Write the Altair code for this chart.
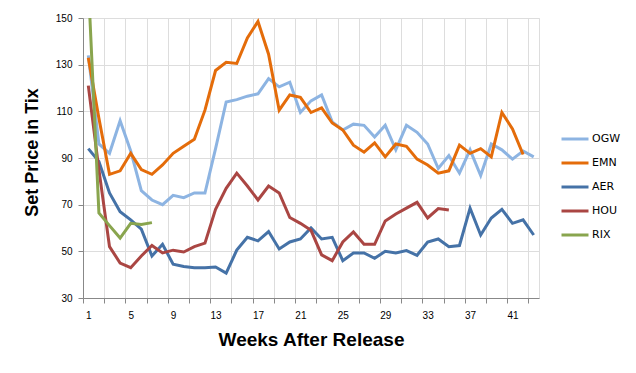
import altair as alt
import pandas as pd

weeks = list(range(1, 44))
set_names = ["OGW", "EMN", "AER", "HOU", "RIX"]
set_colors = ["#8DB4E2", "#E46C0A", "#4572A7", "#AA4643", "#89A54E"]

ogw = [134, 96, 92, 106, 93, 76, 72, 70, 74, 73, 75, 75, 94, 114, 115, 116.5,
       117.5, 124, 120.5, 122.5, 109.5, 114.5, 117, 105.5, 102, 104.5, 104, 99,
       104, 93.5, 104, 101, 96, 85.5, 91, 83.5, 93.5, 82.5, 96, 93.5, 89.5, 93, 90.5]
emn = [133, 107, 83, 84.5, 92, 85, 83, 87, 92, 95, 98, 110.5, 127.5, 131, 130.5,
       141.5, 148.5, 134.5, 110.5, 117, 116, 109.5, 111.5, 105, 102, 95.5, 92.5,
       96.5, 90.5, 96, 95, 89.5, 87, 83.5, 84.5, 95.5, 92, 94, 90.5, 109.5, 102.5,
       91.5, None]
aer = [94, 88.5, 75, 67, 63.5, 59.5, 48, 53, 44.5, 43.5, 43, 43, 43.3, 40.7, 50.5,
       56, 54.5, 58.5, 51, 54, 55.3, 60, 55.3, 56, 46, 49.3, 49.3, 47, 50, 49.3,
       50.3, 48.3, 54, 55.3, 52, 52.5, 68.5, 57, 64.3, 68, 62, 63.5, 57]
hou = [121, 85, 52, 45, 43, 48, 52.5, 49.3, 50.5, 49.7, 52, 53.5, 68, 77, 83.5, 78,
       72, 78, 75, 64.5, 62, 59, 48.5, 46, 54, 58.3, 53, 53, 63, 66, 68.5, 71, 64.3,
       68.3, 67.7] + [None] * 8
rix = [165, 66.5, 61, 55.7, 62, 61.5, 62.3] + [None] * 36

y_ticks = [30, 50, 70, 90, 110, 130, 150]

series = dict(zip(set_names, [ogw, emn, aer, hou, rix]))
rows = []
for name, vals in series.items():
    for w, v in zip(weeks, vals):
        if v is not None:
            rows.append({"week": w, "price": v, "set": name})
df = pd.DataFrame(rows)

W, H = 456, 280
n_cat = len(weeks)
cat_w = W / n_cat
x_tick_pos = [0.5 + 2 * i for i in range(22)]

axis_gray = "#868686"

chart = alt.Chart(df).mark_line(strokeWidth=3, clip=True).encode(
    x=alt.X(
        "week:Q",
        scale=alt.Scale(domain=[0.5, n_cat + 0.5], nice=False, zero=False),
        axis=alt.Axis(
            values=x_tick_pos,
            labelExpr="((datum.value - 0.5) % 4 == 0) ? format(datum.value + 0.5, 'd') : ''",
            labelOffset=cat_w / 2,
            labelOverlap=False,
            labelFlush=False,
            labelBound=False,
            tickSize=5,
            labelPadding=7,
            title="Weeks After Release",
            titleFontSize=19,
            titlePadding=10,
        ),
    ),
    y=alt.Y(
        "price:Q",
        scale=alt.Scale(domain=[30, 150], nice=False, zero=False),
        axis=alt.Axis(
            values=y_ticks,
            tickSize=5,
            labelPadding=6,
            title="Set Price in Tix",
            titleFontSize=18,
            titlePadding=14,
            titleY=134,
        ),
    ),
    color=alt.Color(
        "set:N",
        scale=alt.Scale(domain=set_names, range=set_colors),
        sort=set_names,
        legend=alt.Legend(
            title=None,
            orient="none",
            legendX=477,
            legendY=114,
            symbolType="stroke",
            symbolSize=729,
            symbolStrokeWidth=3,
            clipHeight=14,
            rowPadding=10,
            labelOffset=2,
            labelFont="DejaVu Sans",
            labelFontSize=11,
            labelColor="#000000",
            padding=0,
        ),
    ),
).properties(
    width=W,
    height=H,
    autosize=alt.AutoSizeParams(type="none"),
    padding={"left": 75, "top": 10, "right": 85, "bottom": 62},
).configure_view(
    stroke=None
).configure_axis(
    grid=False,
    domainColor=axis_gray,
    tickColor=axis_gray,
    labelFont="DejaVu Sans",
    labelFontSize=10,
    labelColor="#000000",
    titleFont="Lato",
    titleFontWeight="bold",
    titleColor="#000000",
).configure(
    background="white"
)

chart.save("out.html", embed_options={"renderer": "svg", "actions": False})
